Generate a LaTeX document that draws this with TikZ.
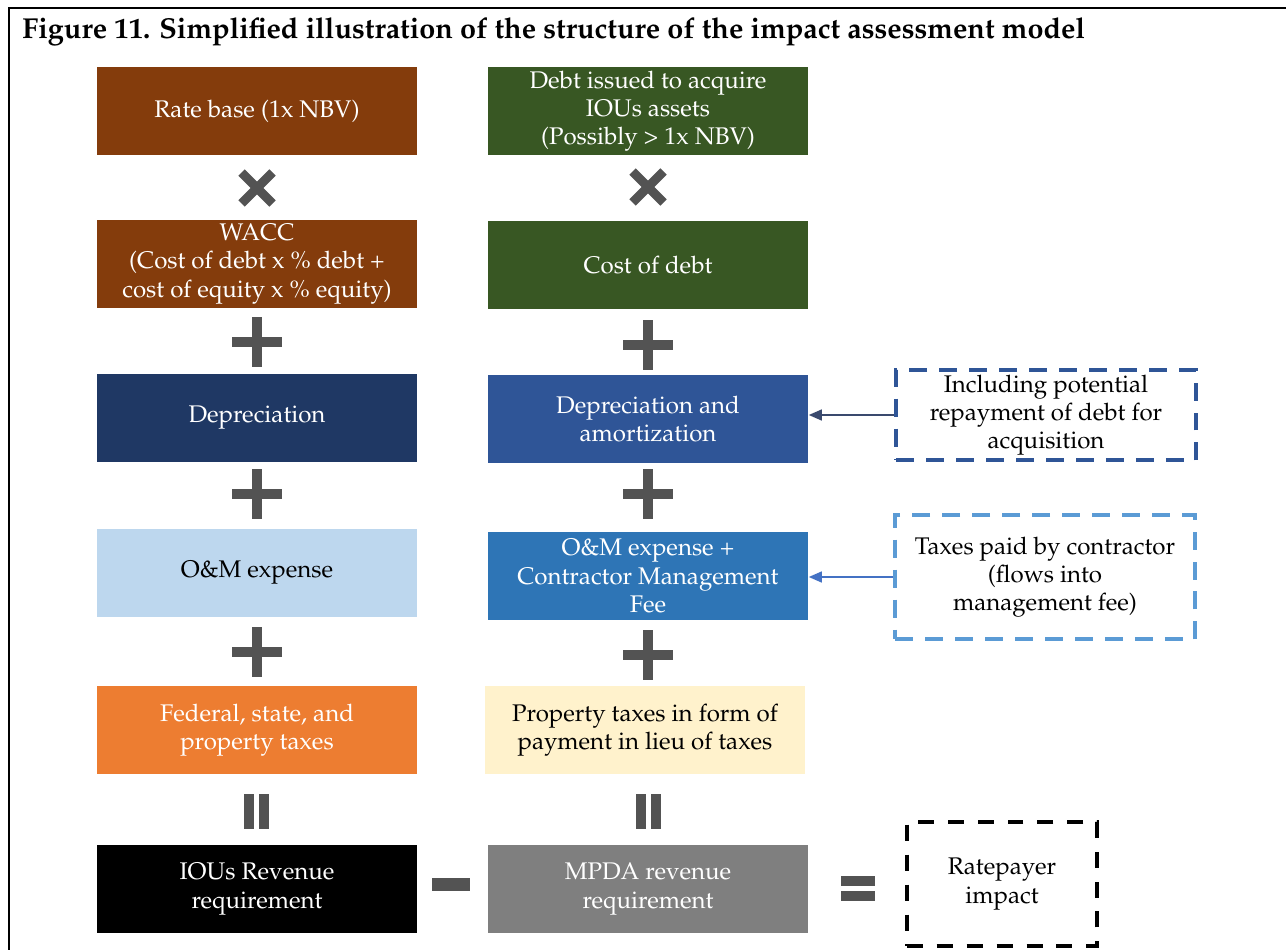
\documentclass[tikz,border=0pt]{standalone}
\usepackage[T1]{fontenc}
\usepackage{mathpazo}
\usepackage{xcolor}
\usetikzlibrary{positioning}
\usetikzlibrary{arrows.meta}

\definecolor{rustbrown}{HTML}{843C0C}
\definecolor{mossgreen}{HTML}{385723}
\definecolor{navyblue}{HTML}{1F3864}
\definecolor{royalblue}{HTML}{2F5597}
\definecolor{paleblue}{HTML}{BDD7EE}
\definecolor{midblue}{HTML}{2E75B6}
\definecolor{skyblue}{HTML}{5B9BD5}
\definecolor{tangerine}{HTML}{ED7D31}
\definecolor{cream}{HTML}{FFF2CC}
\definecolor{midgray}{HTML}{7F7F7F}
\definecolor{opgray}{HTML}{535353}
\definecolor{arrownavy}{HTML}{3A4A6E}
\definecolor{arrowblue}{HTML}{4472C4}

\tikzset{
  boxtext/.style={font=\fontsize{13.7}{16}\selectfont},
  blk/.style={boxtext, minimum width=6.42cm, minimum height=1.78cm, inner sep=0pt, align=center, text=white},
  lightblk/.style={blk, text=black},
  notebox/.style={boxtext, draw, dashed, line width=0.08cm, dash pattern=on 0.36cm off 0.24cm, inner sep=0pt, align=center},
  linkarrow/.style={-{Triangle[length=0.26cm,width=0.22cm]}, line width=0.03cm}
}

\begin{document}
\begin{tikzpicture}[x=0.02cm, y=-0.02cm]
    \useasboundingbox (0,0) rectangle (1286,950);
    % frame and title
    \draw[black, line width=0.04cm] (9,950) -- (9,8) -- (1286,8);
    \node[anchor=base west, inner sep=0pt, font=\fontsize{16.4}{19}\selectfont\bfseries] (title) at (22,38)
        {Figure 11. Simplified illustration of the structure of the impact assessment model};

    % IOUs column
    \node[blk, fill=rustbrown] (rateBase) at (257,111) {Rate base (1x NBV)};
    \node[blk, fill=rustbrown] (wacc) at (257,264) {WACC\\(Cost of debt x \% debt +\\cost of equity x \% equity)};
    \node[blk, fill=navyblue] (depr) at (257,418) {Depreciation};
    \node[lightblk, fill=paleblue] (omExp) at (257,573) {O\&M expense};
    \node[blk, fill=tangerine] (fedTax) at (257,730) {Federal, state, and\\property taxes};
    \node[blk, fill=black] (iouRev) at (257,889) {IOUs Revenue\\requirement};

    % MPDA column
    \node[blk, fill=mossgreen] (debtIssued) at (648,111) {Debt issued to acquire\\IOUs assets\\(Possibly > 1x NBV)};
    \node[blk, fill=mossgreen] (costDebt) at (648,265) {Cost of debt};
    \node[blk, fill=royalblue] (deprAmort) at (648,419) {Depreciation and\\amortization};
    \node[blk, fill=midblue] (omFee) at (648,576) {O\&M expense +\\Contractor Management\\Fee};
    \node[lightblk, fill=cream] (pilot) at (645,730) {Property taxes in form of\\payment in lieu of taxes};
    \node[blk, fill=midgray] (mpdaRev) at (648,889) {MPDA revenue\\requirement};

    % side notes
    \node[notebox, draw=royalblue, minimum width=6.0cm, minimum height=1.82cm] (noteRepay) at (1046,415)
        {Including potential\\repayment of debt for\\acquisition};
    \node[notebox, draw=skyblue, minimum width=6.0cm, minimum height=2.5cm] (noteTaxes) at (1045,577)
        {Taxes paid by contractor\\(flows into\\management fee)};
    \node[notebox, draw=black, dash pattern=on 0.32cm off 0.28cm, minimum width=3.82cm, minimum height=2.5cm] (ratepayer) at (1002,884)
        {Ratepayer\\impact};

    \draw[linkarrow, arrownavy] (noteRepay.west) -- (noteRepay.west -| deprAmort.east);
    \draw[linkarrow, arrowblue] (noteTaxes.west) -- (noteTaxes.west -| omFee.east);

    % operators
    \foreach \x/\y in {257/188, 648/187}{
        \draw[opgray, line width=0.18cm] (\x-15.5,\y-15.5) -- (\x+15.5,\y+15.5);
        \draw[opgray, line width=0.18cm] (\x-15.5,\y+15.5) -- (\x+15.5,\y-15.5);
    }
    \foreach \x/\y in {257/342, 648/345, 257/494, 648/494, 257/652, 648/655}{
        \fill[opgray] (\x-25,\y-5) rectangle (\x+25,\y+5);
        \fill[opgray] (\x-5,\y-25) rectangle (\x+5,\y+25);
    }
    \foreach \x in {244, 259, 636, 651}{
        \fill[opgray] (\x,794) rectangle (\x+10,829);
    }
    \fill[opgray] (432,878) rectangle (470,891);
    \fill[opgray] (841,876) rectangle (875,886);
    \fill[opgray] (841,891) rectangle (875,901);
\end{tikzpicture}
\end{document}
